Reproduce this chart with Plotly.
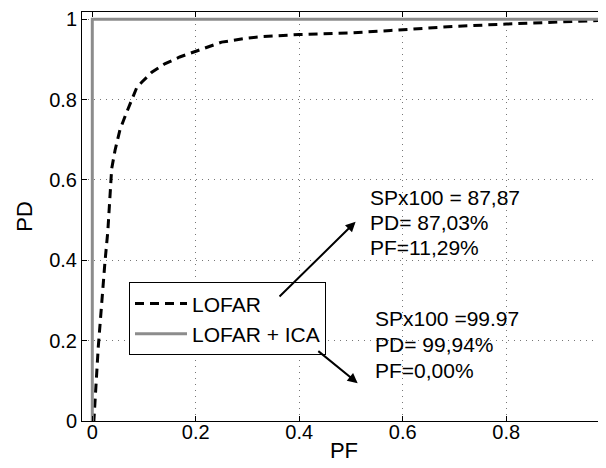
import plotly.graph_objects as go

# LOFAR ROC curve
lofar_pf = [0.0, 0.003, 0.0116, 0.0168, 0.0245, 0.030, 0.034, 0.0375, 0.044, 0.0535, 0.066, 0.079, 0.086, 0.0955, 0.115, 0.14, 0.169, 0.2017, 0.25, 0.3, 0.33, 0.4, 0.5, 0.577, 0.697, 0.8, 0.9, 0.98, 1.0]
lofar_pd = [0.0, 0.0, 0.185, 0.278, 0.396, 0.472, 0.573, 0.628, 0.674, 0.725, 0.767, 0.809, 0.83, 0.843, 0.868, 0.889, 0.906, 0.921, 0.943, 0.953, 0.957, 0.962, 0.966, 0.972, 0.982, 0.988, 0.993, 0.997, 1.0]

# LOFAR + ICA ROC curve
ica_pf = [0.0, 0.0, 0.0, 1.0]
ica_pd = [0.0, 0.9994, 1.0, 1.0]

x_ticks = [0, 0.2, 0.4, 0.6, 0.8]
x_tick_labels = ["0", "0.2", "0.4", "0.6", "0.8"]
y_ticks = [0, 0.2, 0.4, 0.6, 0.8, 1]
y_tick_labels = ["0", "0.2", "0.4", "0.6", "0.8", "1"]

note1_lines = ["SPx100 = 87,87", "PD= 87,03%", "PF=11,29%"]
note2_lines = ["SPx100 =99.97", "PD= 99,94%", "PF=0,00%"]

FONT = "Liberation Sans, Arial, Helvetica, sans-serif"

fig = go.Figure()
fig.add_trace(go.Scatter(x=lofar_pf, y=lofar_pd, mode="lines", name="LOFAR",
                         line=dict(color="black", width=3, dash="9px,6px")))
fig.add_trace(go.Scatter(x=ica_pf, y=ica_pd, mode="lines", name="LOFAR + ICA",
                         line=dict(color="#8c8c8c", width=3)))

fig.add_annotation(x=0.509, y=0.496, ax=0.359, ay=0.306, xref="x", yref="y",
                   axref="x", ayref="y", showarrow=True, arrowhead=2, arrowsize=1,
                   arrowwidth=2, arrowcolor="black", text="")
fig.add_annotation(x=0.513, y=0.094, ax=0.434, ay=0.177, xref="x", yref="y",
                   axref="x", ayref="y", showarrow=True, arrowhead=2, arrowsize=1,
                   arrowwidth=2, arrowcolor="black", text="")

for i, line in enumerate(note1_lines):
    fig.add_annotation(x=0.533, y=0.556, xref="x", yref="y", text=line, showarrow=False,
                       xanchor="left", yanchor="middle", align="left", yshift=-25 * i,
                       font=dict(size=21, color="black", family=FONT))
for i, line in enumerate(note2_lines):
    fig.add_annotation(x=0.542, y=0.256, xref="x", yref="y", text=line, showarrow=False,
                       xanchor="left", yanchor="middle", align="left", yshift=-26 * i,
                       font=dict(size=21, color="black", family=FONT))

# the page body adds an 8px offset, so the figure is 8px smaller than the window
fig.update_layout(
    width=598, height=460,
    margin=dict(l=74, r=0, t=4, b=47),
    paper_bgcolor="white", plot_bgcolor="white",
    font=dict(family=FONT, size=20, color="black"),
    showlegend=True,
    legend=dict(x=0.0897, y=0.339, xanchor="left", yanchor="top",
                bgcolor="white", bordercolor="black", borderwidth=1,
                font=dict(size=21, color="black", family=FONT),
                tracegroupgap=0, itemwidth=52),
)
fig.update_xaxes(range=[-0.0199, 0.993], tickvals=x_ticks, ticktext=x_tick_labels,
                 showgrid=True, gridcolor="#777", griddash="1px,5px", gridwidth=1,
                 zeroline=False, showline=True, linecolor="black", linewidth=1,
                 mirror="ticks", ticks="inside", ticklen=5, tickcolor="black",
                 automargin=False, ticklabelstandoff=-7,
                 title=dict(text="PF", font=dict(size=22), standoff=0),
                 tickfont=dict(size=20))
fig.update_yaxes(range=[0, 1.018], tickvals=y_ticks, ticktext=y_tick_labels,
                 showgrid=True, gridcolor="#777", griddash="1px,5px", gridwidth=1,
                 zeroline=False, showline=True, linecolor="black", linewidth=1,
                 mirror=False, ticks="inside", ticklen=5, tickcolor="black",
                 automargin=False,
                 title=dict(text="PD", font=dict(size=22), standoff=10),
                 tickfont=dict(size=20))

fig.write_html("out.html")
